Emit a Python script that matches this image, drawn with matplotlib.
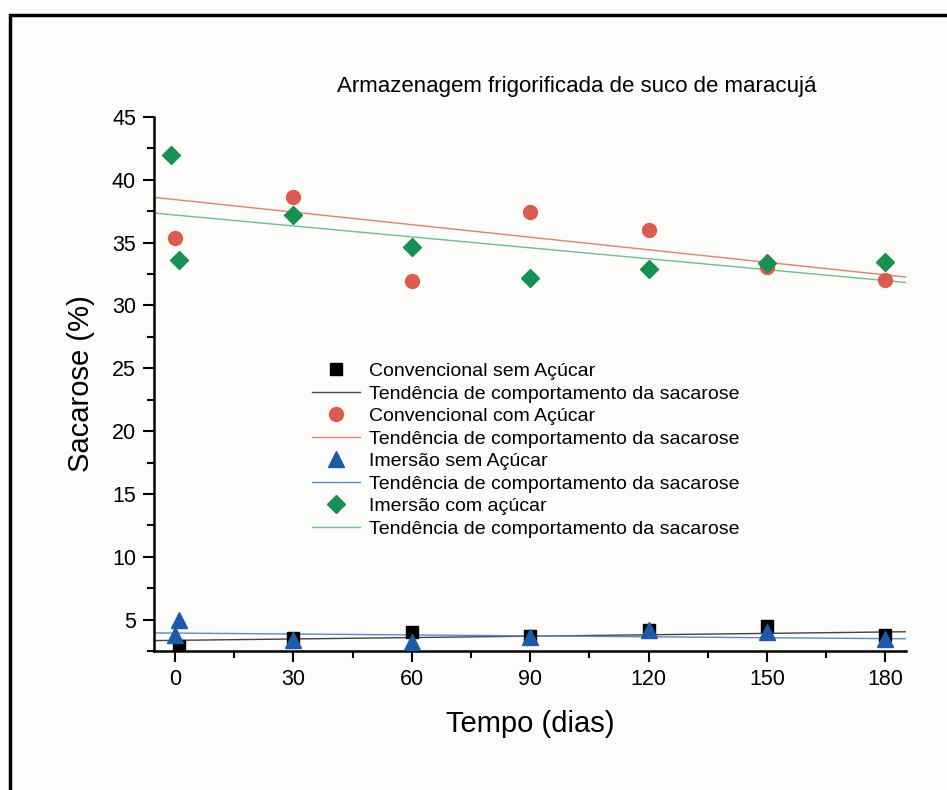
import numpy as np
import matplotlib
matplotlib.use("Agg")
import matplotlib.pyplot as plt
from matplotlib.patches import Rectangle

plt.rcParams['font.family'] = ['Liberation Sans', 'DejaVu Sans']

# values
dias_conv_sem = [1, 30, 60, 90, 120, 150, 180]
conv_sem = [2.9, 3.5, 4.0, 3.7, 4.2, 4.5, 3.8]

dias_conv_com = [0, 30, 60, 90, 120, 150, 180]
conv_com = [35.35, 38.6, 31.96, 37.4, 36.0, 33.05, 32.0]

dias_im_sem = [1, 0, 30, 60, 90, 120, 150, 180]
im_sem = [5.0, 3.75, 3.4, 3.2, 3.65, 4.15, 4.05, 3.45]

dias_im_com = [-1, 1, 30, 60, 90, 120, 150, 180]
im_com = [42.0, 33.6, 37.2, 34.66, 32.2, 32.9, 33.4, 33.5]

# trend lines: (value at day 0, slope per day)
tend_conv_sem = (3.35, 0.0037)
tend_conv_com = (38.43, -0.0333)
tend_im_sem = (3.93, -0.00246)
tend_im_com = (37.2, -0.029)

xticks = [0, 30, 60, 90, 120, 150, 180]
yticks = [5, 10, 15, 20, 25, 30, 35, 40, 45]

bg = '#fcfcfa'
fig = plt.figure(figsize=(9.47, 7.9), dpi=100, facecolor=bg)
ax = fig.add_axes([0.1626, 0.1759, 0.794, 0.676], facecolor=bg)

xlim = (-5.3, 185.2)
xx = np.array(xlim)

def tend(p):
    return p[0] + p[1] * xx

ax.plot(dias_conv_sem, conv_sem, 's', color='black', ms=8, label='Convencional sem Açúcar', zorder=3)
ax.plot(xx, tend(tend_conv_sem), '-', color='#444444', lw=1.0, label='Tendência de comportamento da sacarose', zorder=2)
ax.plot(dias_conv_com, conv_com, 'o', color='#dd5a4e', ms=10, label='Convencional com Açúcar', zorder=3)
ax.plot(xx, tend(tend_conv_com), '-', color='#e8806a', lw=1.0, label='Tendência de comportamento da sacarose', zorder=2)
ax.plot(dias_im_sem, im_sem, '^', color='#1f5aa8', ms=11, label='Imersão sem Açúcar', zorder=4)
ax.plot(xx, tend(tend_im_sem), '-', color='#5a8ccc', lw=1.0, label='Tendência de comportamento da sacarose', zorder=2)
ax.plot(dias_im_com, im_com, 'D', color='#179150', ms=9, label='Imersão com açúcar', zorder=3)
ax.plot(xx, tend(tend_im_com), '-', color='#6cc08a', lw=1.0, label='Tendência de comportamento da sacarose', zorder=2)

ax.set_xlim(*xlim)
ax.set_ylim(2.5, 45)
ax.set_xticks(xticks)
ax.set_xticks(np.arange(15, 180, 30), minor=True)
ax.set_yticks(yticks)
ax.set_yticks(np.arange(2.5, 45, 5), minor=True)

for s in ['top', 'right']:
    ax.spines[s].set_visible(False)
for s in ['left', 'bottom']:
    ax.spines[s].set_linewidth(1.8)
ax.tick_params(which='major', direction='out', length=8, width=1.5, labelsize=15.5, pad=5)
ax.tick_params(which='minor', direction='out', length=5, width=1.5)

ax.set_xlabel('Tempo (dias)', fontsize=21, labelpad=14)
ax.set_ylabel('Sacarose (%)', fontsize=21, labelpad=12)

fig.text(0.609, 0.89, 'Armazenagem frigorificada de suco de maracujá', fontsize=16,
         ha='center', va='center')

leg = ax.legend(loc='upper left', bbox_to_anchor=(0.21, 0.54), frameon=False,
                fontsize=14, handlelength=2.5, handletextpad=0.42, labelspacing=0.25,
                borderaxespad=0, borderpad=0)

fig.patches.append(Rectangle((10 / 947, -0.05), 1.0, 1 - 15 / 790 + 0.05, transform=fig.transFigure,
                             fill=False, edgecolor='black', lw=2.5))

fig.savefig('out.png', dpi=100, facecolor=bg)
